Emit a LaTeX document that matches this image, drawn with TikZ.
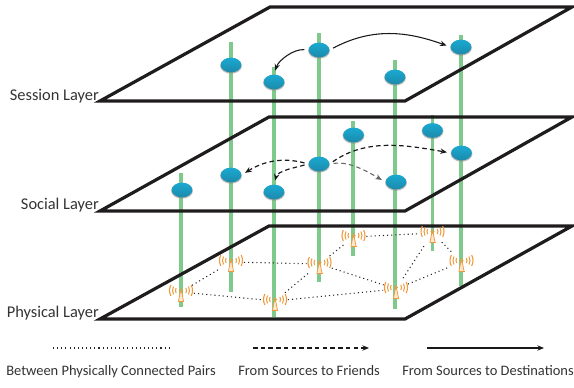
\documentclass[tikz,border=0pt]{standalone}
\usepackage{fontspec}
\setmainfont{Carlito}
\usetikzlibrary{shapes.geometric,arrows.meta}
\definecolor{poleg}{HTML}{7FC98C}
\definecolor{ballt}{HTML}{1AA9D2}
\definecolor{ballb}{HTML}{1C8AAA}
\definecolor{ant}{HTML}{EE9A3C}
\definecolor{planek}{HTML}{1E1C1C}
\definecolor{txt}{HTML}{333333}
\tikzset{
  plane/.style={draw=planek,line width=2.4pt,line join=miter},
  pole/.style={draw=poleg,line width=2.3pt},
  ball/.style={ellipse,minimum width=15.5pt,minimum height=11pt,inner sep=0pt,top color=ballt,bottom color=ballb,draw=none,
     preaction={fill=black!45,opacity=.45,draw=black!45,line width=1pt,transform canvas={yshift=-.6pt}}},
  antn/.style={circle,minimum size=19pt,inner sep=0pt},
  phys/.style={draw=black!85,line width=.8pt,dash pattern=on .8pt off 2.3pt},
  tipa/.style={-{Stealth[length=5pt,width=4pt]}},
  solidarc/.style={tipa,draw=black!90,line width=.8pt,shorten >=3pt,shorten <=3pt},
  dasharc/.style={tipa,draw=black!90,line width=.9pt,dash pattern=on 3.4pt off 2.4pt,shorten >=3pt,shorten <=3pt},
  greyarc/.style={tipa,draw=black!60,line width=.8pt,dash pattern=on 3.4pt off 2.4pt,shorten >=3pt,shorten <=3pt},
  lay/.style={anchor=east,text=txt,font=\fontsize{12.3pt}{14pt}\selectfont,inner sep=0pt},
  leg/.style={anchor=base west,text=txt,font=\fontsize{10.85pt}{12pt}\selectfont,inner sep=0pt},
  antenna/.pic={
    \draw[ant,fill=ant!25,line width=.55pt,line join=round] (-2.6,9.5) -- (-.7,0) -- (.7,0) -- (2.6,9.5) -- cycle;
    \fill[ant] (-3,8.7) rectangle (3,10);
    \draw[ant,line width=.45pt] (0,-1.5) circle (1.6);
    \foreach \r in {5.5,8.5,11.5}{
      \draw[ant,line width=.8pt] ({\r*cos(-28)},{-1.5+\r*sin(-28)}) arc[start angle=-28,end angle=28,radius=\r];
      \draw[ant,line width=.8pt] ({-\r*cos(-28)},{-1.5+\r*sin(-28)}) arc[start angle=208,end angle=152,radius=\r];
    }
  }
}
\begin{document}
\begin{tikzpicture}[x=.75pt,y=-.75pt]
\useasboundingbox (0,0) rectangle (574,388);
% pole ends
\foreach \n/\x/\t/\b in {a/231/42/292,b/274/67/317,c/319/33/282,d/395/60/309,e/461/35/286,f/353/121/256,g/432.5/115/251,h/181/173/307}{
  \coordinate (\n top) at (\x,\t);
  \coordinate (\n bot) at (\x,\b);
  \draw[pole] (\n top) -- (\n bot);
}
% planes
\coordinate (s1) at (100,101); \coordinate (s2) at (270,7);   \coordinate (s3) at (572,7);   \coordinate (s4) at (405,101);
\coordinate (m1) at (100,211); \coordinate (m2) at (269,117); \coordinate (m3) at (572,117); \coordinate (m4) at (405,211);
\coordinate (p1) at (100,319); \coordinate (p2) at (269,226); \coordinate (p3) at (572,226); \coordinate (p4) at (405,319);
\draw[plane] (s1) -- (s2) -- (s3) -- (s4) -- cycle;
\draw[plane] (m1) -- (m2) -- (m3) -- (m4) -- cycle;
\draw[plane] (p1) -- (p2) -- (p3) -- (p4) -- cycle;
% labels
\node[lay] (lsession) at (99,96) {Session Layer};
\node[lay] (lsocial) at (99,205) {Social Layer};
\node[lay] (lphys) at (99,313) {Physical Layer};
% session nodes
\foreach \n/\x/\y in {a/231/65,b/274/82,c/319/50,d/395/77,e/461/47}
  \node[ball] (s\n) at (\x,\y) {};
% social nodes
\foreach \n/\x/\y in {h/182/190,a/231/175,b/274/192,c/319/164,f/353.5/135,d/396/182,g/432.5/130.5,e/461.5/153}
  \node[ball] (m\n) at (\x,\y) {};
% physical nodes
\foreach \n/\x/\y in {h/181/292,a/231/262,b/275/301,c/319.5/264,f/353.5/237,d/396/289,g/432.5/233,e/461.5/262}{
  \node[antn] (r\n) at (\x,\y) {};
  \pic at (r\n) {antenna};
}
% physical links
\foreach \u/\v in {h/a,h/b,a/c,b/c,b/d,c/f,c/d,f/g,d/g,d/e,g/e}
  \draw[phys] (r\u) -- (r\v);
% session arcs
\draw[solidarc] (sc.east) to[out=28,in=160,looseness=1] (se.west);
\draw[solidarc] (sc.west) to[out=175,in=72,looseness=.9] (sb.north);
% social arcs
\draw[dasharc] (mc.west) to[out=165,in=32,looseness=1] (ma.east);
\draw[dasharc] (mc.west) to[out=195,in=75,looseness=.9] (mb.north);
\draw[dasharc] (mc.east) to[out=35,in=170,looseness=.95] (me.west);
\draw[greyarc] (mc.east) to[out=8,in=150,looseness=.9] (md.west);
% legend
\coordinate (d1) at (53,348); \coordinate (d2) at (172,348);
\coordinate (f1) at (253,348); \coordinate (f2) at (369,348);
\coordinate (t1) at (427,348); \coordinate (t2) at (544,348);
\draw[phys] (d1) -- (d2);
\draw[tipa,draw=black!90,line width=.9pt,dash pattern=on 3.4pt off 2.4pt] (f1) -- (f2);
\draw[tipa,draw=black!90,line width=.8pt] (t1) -- (t2);
\node[leg] (l1) at (6,375) {Between Physically Connected Pairs};
\node[leg] (l2) at (238,375) {From Sources to Friends};
\node[leg] (l3) at (402,375) {From Sources to Destinations};
\end{tikzpicture}
\end{document}
